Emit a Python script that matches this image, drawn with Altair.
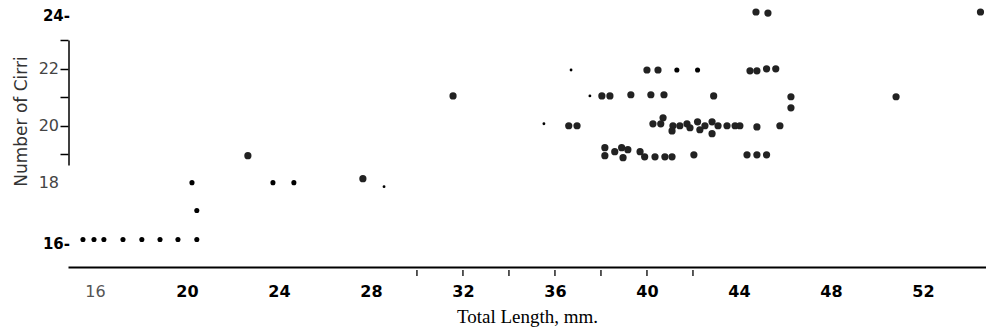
import altair as alt
import pandas as pd

# ---- data (Total Length mm vs Number of Cirri) ----
# small elongated dots (left part and a few on row 22)
dash_len = [15.48, 15.96, 16.39, 17.22, 18.04, 18.83, 19.61, 20.43,
            20.43, 20.22, 23.74, 24.65, 41.30, 42.20]
dash_cirri = [16, 16, 16, 16, 16, 16, 16, 16,
              17.02, 18.0, 18.0, 18.0, 21.96, 21.96]

# regular round dots
main_len = [22.65, 27.65, 31.57,
            38.04, 38.39, 39.30, 40.17, 40.74, 42.90, 46.26, 46.26, 50.83,
            40.00, 40.48, 44.48, 44.78, 45.20, 45.60,
            44.74, 45.26, 54.50,
            36.60, 36.96, 40.26, 40.70, 40.60, 41.13, 41.09, 41.43, 41.74, 41.87,
            42.20, 42.30, 42.52, 42.83, 42.83, 43.09, 43.48, 43.83, 44.04, 44.78, 45.78,
            38.17, 38.17, 38.60, 38.90, 38.96, 39.17, 39.70, 39.90, 40.35, 40.78,
            41.09, 42.04, 44.35, 44.78, 45.20]
main_cirri = [18.95, 18.14, 21.05,
              21.05, 21.05, 21.09, 21.09, 21.09, 21.05, 21.02, 20.63, 21.02,
              21.96, 21.96, 21.93, 21.93, 22.0, 22.0,
              24.0, 23.96, 24.0,
              20.0, 20.0, 20.07, 20.28, 20.07, 20.0, 19.82, 20.0, 20.07, 19.93,
              20.14, 19.86, 20.0, 20.14, 19.72, 20.0, 20.0, 20.0, 20.0, 19.96, 20.0,
              19.23, 18.95, 19.09, 19.23, 18.88, 19.16, 19.09, 18.91, 18.91, 18.91,
              18.91, 18.98, 18.98, 18.98, 18.98]

# tiny specks
small_len = [36.70, 37.52, 35.52, 28.57]
small_cirri = [21.96, 21.05, 20.07, 17.86]

# axis labels / ticks
xtick_values = [16, 20, 24, 28, 32, 36, 40, 44, 48, 52]
scan_tick_values = [30, 32, 34, 36, 38, 40, 42]
ylab_bold_values = [24, 16]
ylab_bold_text = ["24-", "16-"]
ylab_plain_values = [22, 20, 18]
ylab_plain_text = ["22", "20", "18"]
yaxis_tick_values = [19, 20, 21, 22, 23]
yaxis_segment = [18.6, 23.0]

W, H = 918, 259
xscale = alt.Scale(domain=[14.83, 54.74], nice=False, zero=False)
yscale = alt.Scale(domain=[15.035, 24.14], nice=False, zero=False)

main_df = pd.DataFrame({"len": main_len, "cirri": main_cirri})
dash_df = pd.DataFrame({"len": dash_len, "cirri": dash_cirri})
small_df = pd.DataFrame({"len": small_len, "cirri": small_cirri})

xaxis = alt.Axis(
    values=xtick_values, ticks=False, tickSize=0, grid=False,
    domainColor="black", domainWidth=2,
    labelFont="DejaVu Sans", labelFontSize=16,
    labelFontWeight=alt.ExprRef("datum.value == 16 ? 'normal' : 'bold'"),
    labelColor=alt.ExprRef("datum.value == 16 ? '#555555' : 'black'"),
    labelPadding=16,
    title="Total Length, mm.", titleFont="Liberation Serif", titleFontSize=19,
    titleFontWeight="normal", titleColor="black", titlePadding=8,
)
yaxis = alt.Axis(
    values=yaxis_tick_values, labels=False, domain=False, grid=False,
    ticks=True, tickSize=8, tickColor="black", tickWidth=1.5,
    title="Number of Cirri", titleFont="DejaVu Sans", titleFontSize=17,
    titleFontWeight="normal", titleColor="#333333",
    titleX=-47, titleY=113, titleAngle=270, titleAlign="center", titleBaseline="middle",
)


def X(field):
    return alt.X(field, scale=xscale, axis=xaxis)


def Y(field):
    return alt.Y(field, scale=yscale, axis=yaxis)


main = alt.Chart(main_df).mark_circle(size=52, color="#222222", opacity=1).encode(
    x=X("len:Q"), y=Y("cirri:Q"),
)
dash = alt.Chart(dash_df).mark_circle(size=26, color="black", opacity=1).encode(
    x=X("len:Q"), y=Y("cirri:Q"),
)
small = alt.Chart(small_df).mark_circle(size=8, color="black", opacity=1).encode(
    x=X("len:Q"), y=Y("cirri:Q"),
)

seg = alt.Chart(pd.DataFrame({"y": [yaxis_segment[1]], "y2": [yaxis_segment[0]]})).mark_rule(
    color="black", strokeWidth=1.5
).encode(x=alt.value(1), y=Y("y:Q"), y2="y2:Q")

scan_ticks = alt.Chart(pd.DataFrame({"t": scan_tick_values})).mark_rule(
    color="#222222", strokeWidth=1.5
).encode(x=X("t:Q"), y=alt.value(H + 3), y2=alt.value(H + 9))

ylab_bold = alt.Chart(pd.DataFrame({"v": ylab_bold_values, "t": ylab_bold_text})).mark_text(
    align="right", baseline="middle", font="DejaVu Sans", fontSize=15,
    fontWeight="bold", color="black", dy=4
).encode(x=alt.value(2), y=Y("v:Q"), text="t:N")

ylab_plain = alt.Chart(pd.DataFrame({"v": ylab_plain_values, "t": ylab_plain_text})).mark_text(
    align="right", baseline="middle", font="DejaVu Sans", fontSize=16,
    fontWeight="normal", color="#444444"
).encode(x=alt.value(-9), y=Y("v:Q"), text="t:N")

chart = alt.layer(main, dash, small, seg, scan_ticks, ylab_bold, ylab_plain).properties(
    width=W, height=H,
    padding={"left": 60, "top": 0, "right": 0, "bottom": 61},
    autosize=alt.AutoSizeParams(type="none"),
    background="white",
).configure_view(stroke=None)

chart.save("out.html", embed_options={"renderer": "svg", "actions": False})
